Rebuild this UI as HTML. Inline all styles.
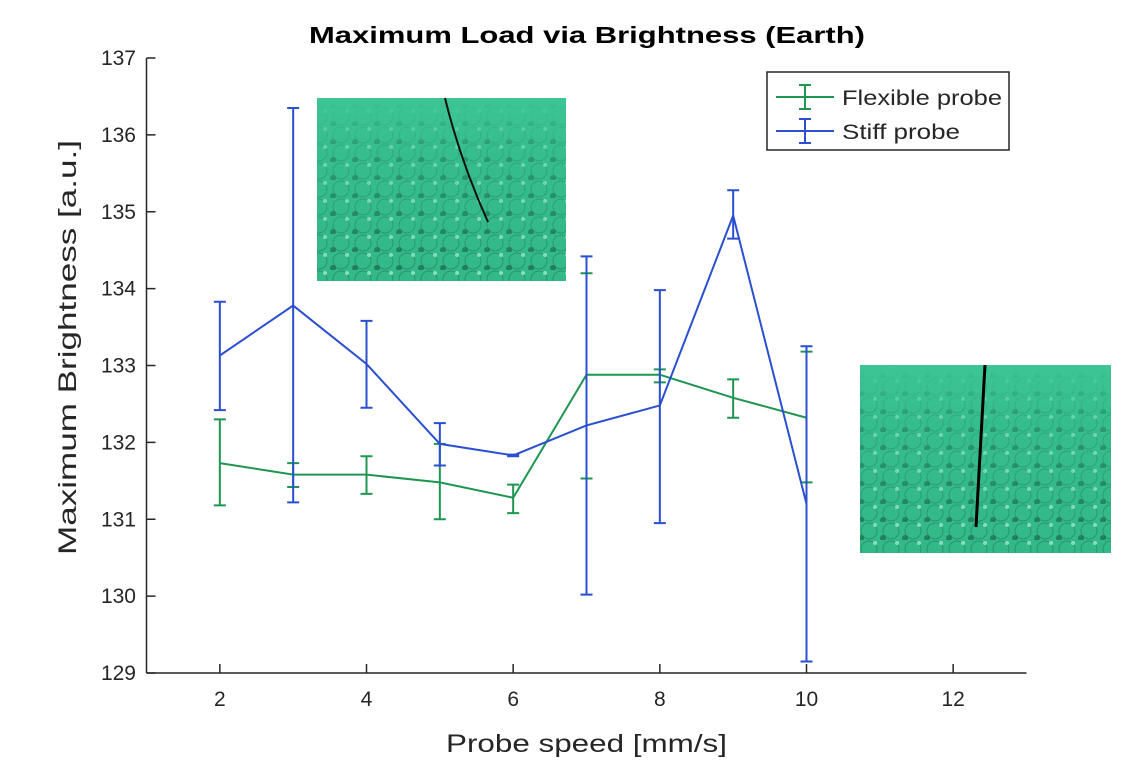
<!DOCTYPE html>
<html><head><meta charset="utf-8"><style>
body{margin:0;background:#fff;}
svg text{font-family:"Liberation Sans",sans-serif;fill:#262626;}
</style></head><body>
<svg id="chart" width="1134" height="763" xmlns="http://www.w3.org/2000/svg">
<defs>
<pattern id="cells" width="22" height="18" patternUnits="userSpaceOnUse">
<circle cx="11" cy="9" r="8" fill="none" stroke="#1e7a5e" stroke-width="1" opacity="0.6"/>
<circle cx="3" cy="16" r="3" fill="#0d3f30" opacity="0.5"/>
<circle cx="17" cy="3" r="2" fill="#c8ffe8" opacity="0.6"/>
</pattern>
<linearGradient id="fade" x1="0" y1="0" x2="0" y2="1">
<stop offset="0" stop-color="#3cc595" stop-opacity="1"/>
<stop offset="0.3" stop-color="#3cc595" stop-opacity="0.4"/>
<stop offset="1" stop-color="#3cc595" stop-opacity="0"/>
</linearGradient>
</defs>
<text x="309" y="43" textLength="556" lengthAdjust="spacingAndGlyphs" font-size="23" font-weight="bold" style="fill:#000">Maximum Load via Brightness (Earth)</text>
<g id="axes"></g>
<g id="insets">
<g>
<rect x="317" y="98" width="249" height="183" fill="#33b888"/>
<rect x="317" y="98" width="249" height="183" fill="url(#cells)"/>
<rect x="317" y="98" width="249" height="183" fill="url(#fade)"/>
<path d="M445 98 Q460 160 488 222" stroke="#111" stroke-width="2" fill="none"/>
</g>
<g>
<rect x="860" y="365" width="251" height="188" fill="#33b888"/>
<rect x="860" y="365" width="251" height="188" fill="url(#cells)"/>
<rect x="860" y="365" width="251" height="188" fill="url(#fade)"/>
<line x1="985" y1="365" x2="976" y2="527" stroke="#000" stroke-width="3"/>
</g>
</g>
<g id="series"></g>
<g>
<rect x="767" y="72" width="242" height="78" fill="#fff" stroke="#262626" stroke-width="1.5"/>
<g>
<line x1="776" y1="97" x2="834" y2="97" stroke="#1e9650" stroke-width="2"/>
<line x1="805" y1="85" x2="805" y2="109" stroke="#1e9650" stroke-width="2"/>
<line x1="799" y1="85" x2="811" y2="85" stroke="#1e9650" stroke-width="2"/>
<line x1="799" y1="109" x2="811" y2="109" stroke="#1e9650" stroke-width="2"/>
<text x="842" y="105" font-size="21" textLength="160" lengthAdjust="spacingAndGlyphs">Flexible probe</text>
</g>
<g>
<line x1="776" y1="131" x2="834" y2="131" stroke="#2a4fd0" stroke-width="2"/>
<line x1="805" y1="119" x2="805" y2="143" stroke="#2a4fd0" stroke-width="2"/>
<line x1="799" y1="119" x2="811" y2="119" stroke="#2a4fd0" stroke-width="2"/>
<line x1="799" y1="143" x2="811" y2="143" stroke="#2a4fd0" stroke-width="2"/>
<text x="842" y="139" font-size="21" textLength="118" lengthAdjust="spacingAndGlyphs">Stiff probe</text>
</g>
</g>
</svg>
<script>
const speeds=[2,3,4,5,6,7,8,9,10];
const flexMean=[131.73,131.58,131.58,131.48,131.28,132.88,132.88,132.58,132.32];
const flexLow=[131.18,131.42,131.33,131.0,131.08,131.53,132.78,132.32,131.48];
const flexHigh=[132.3,131.73,131.82,131.98,131.45,134.2,132.95,132.82,133.18];
const stiffMean=[133.13,133.78,133.02,131.98,131.83,132.22,132.48,134.95,131.2];
const stiffLow=[132.42,131.22,132.45,131.7,131.82,130.02,130.95,134.65,129.15];
const stiffHigh=[133.83,136.35,133.58,132.25,131.84,134.42,133.98,135.28,133.25];
const xTicks=[2,4,6,8,10,12];
const yTicks=[129,130,131,132,133,134,135,136,137];
const NS='http://www.w3.org/2000/svg';
const X=v=>146.5+(v-1)*(880/12);
const Y=v=>673-(v-129)*(615/8);
function mk(tag,attrs,parent){const e=document.createElementNS(NS,tag);for(const k in attrs)e.setAttribute(k,attrs[k]);parent.appendChild(e);return e;}
const ax=document.getElementById('axes');
let l=mk('line',{x1:146.5,y1:673,x2:1026.5,y2:673,stroke:'#262626','stroke-width':1.5},ax);


l=mk('line',{x1:146.5,y1:58,x2:146.5,y2:673,stroke:'#262626','stroke-width':1.5},ax);


xTicks.forEach(t=>{
 const g=mk('line',{x1:X(t),y1:673,x2:X(t),y2:664,stroke:'#262626','stroke-width':1.5},ax);
 
 
 const tx=mk('text',{x:X(t),y:706,'text-anchor':'middle','font-size':21},ax);tx.textContent=t;
 
 
});
yTicks.forEach(t=>{
 const g=mk('line',{x1:146.5,y1:Y(t),x2:155.5,y2:Y(t),stroke:'#262626','stroke-width':1.5},ax);
 
 
 const tx=mk('text',{x:136,y:Y(t)+7,'text-anchor':'end','font-size':21},ax);tx.textContent=t;
 
 
});
let tt=mk('text',{x:446,y:752,textLength:281,lengthAdjust:'spacingAndGlyphs','font-size':25},ax);tt.textContent='Probe speed [mm/s]';


tt=mk('text',{x:0,y:0,textLength:415,lengthAdjust:'spacingAndGlyphs','font-size':25,transform:'translate(76,555) rotate(-90)'},ax);tt.textContent='Maximum Brightness [a.u.]';


const sg=document.getElementById('series');
function series(mean,lo,hi,color,name){
 const g=mk('g',{},sg);
 
 
 const p=mk('polyline',{points:speeds.map((s,i)=>X(s)+','+Y(mean[i])).join(' '),fill:'none',stroke:color,'stroke-width':2},g);
 
 
 speeds.forEach((s,i)=>{
  const x=X(s);
  const e=mk('path',{d:`M${x} ${Y(lo[i])}V${Y(hi[i])}M${x-6} ${Y(lo[i])}H${x+6}M${x-6} ${Y(hi[i])}H${x+6}`,stroke:color,'stroke-width':2,fill:'none'},g);
  
  
 });
}
series(flexMean,flexLow,flexHigh,'#1e9650','flexible-probe-series');
series(stiffMean,stiffLow,stiffHigh,'#2a4fd0','stiff-probe-series');
</script>
</body></html>
